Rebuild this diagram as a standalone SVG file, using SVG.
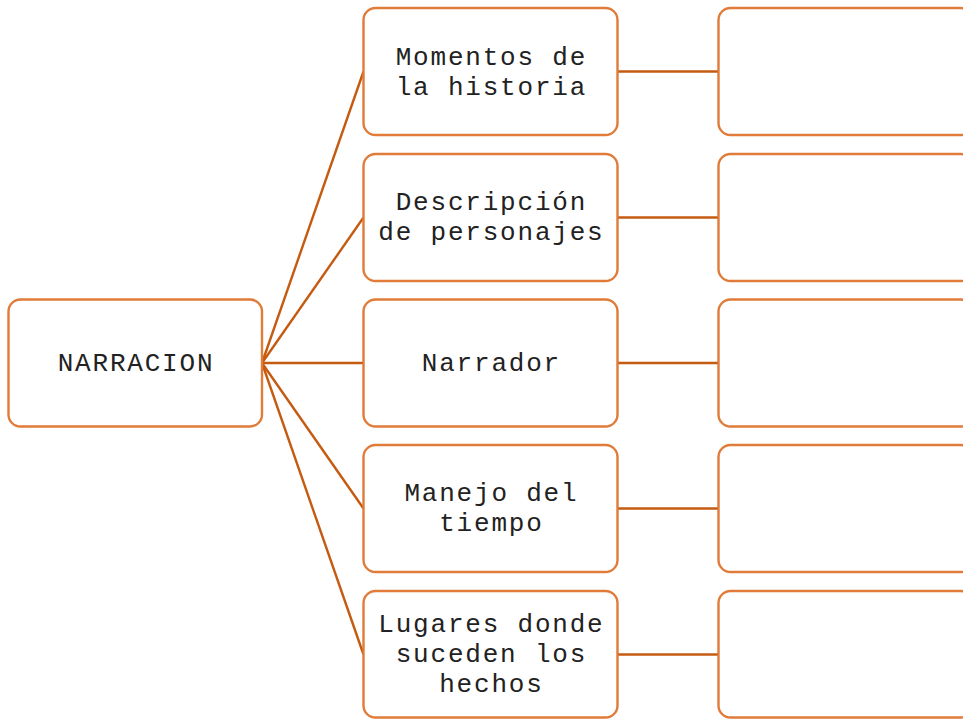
<svg xmlns="http://www.w3.org/2000/svg" width="963" height="719" viewBox="0 0 963 719">
<style>
.box{fill:#ffffff;stroke:#E07B39;stroke-width:2.4}
.c{stroke:#C55A11;stroke-width:2.4;fill:none}
text{font-family:"Liberation Mono","Courier New",monospace;font-size:26px;letter-spacing:1.8px;fill:#222222;text-anchor:middle}
</style>
<rect width="963" height="719" fill="#ffffff"/>
<g id="connectors">
<line class="c" x1="262" y1="363" x2="363.5" y2="71.5"/>
<line class="c" x1="262" y1="363" x2="363.5" y2="217.5"/>
<line class="c" x1="262" y1="363" x2="363.5" y2="363"/>
<line class="c" x1="262" y1="363" x2="363.5" y2="508.5"/>
<line class="c" x1="262" y1="363" x2="363.5" y2="654.5"/>
<line class="c" x1="617.5" y1="71.5" x2="718.5" y2="71.5"/>
<line class="c" x1="617.5" y1="217.5" x2="718.5" y2="217.5"/>
<line class="c" x1="617.5" y1="363" x2="718.5" y2="363"/>
<line class="c" x1="617.5" y1="508.5" x2="718.5" y2="508.5"/>
<line class="c" x1="617.5" y1="654.5" x2="718.5" y2="654.5"/>
</g>
<g id="n-root"><rect class="box" x="8.5" y="299.5" width="253.5" height="127" rx="12"/><text x="136" y="371">NARRACION</text></g>
<g id="n-momentos"><rect class="box" x="363.5" y="8" width="254" height="127" rx="12"/><text x="491.4" y="65">Momentos de</text><text x="491.4" y="94.5">la historia</text></g>
<g id="n-descripcion"><rect class="box" x="363.5" y="154" width="254" height="127" rx="12"/><text x="491.4" y="210">Descripción</text><text x="491.4" y="240">de personajes</text></g>
<g id="n-narrador"><rect class="box" x="363.5" y="299.5" width="254" height="127" rx="12"/><text x="491.4" y="371">Narrador</text></g>
<g id="n-manejo"><rect class="box" x="363.5" y="445" width="254" height="127" rx="12"/><text x="491.4" y="501">Manejo del</text><text x="491.4" y="531">tiempo</text></g>
<g id="n-lugares"><rect class="box" x="363.5" y="591" width="254" height="126.5" rx="12"/><text x="491.4" y="632">Lugares donde</text><text x="491.4" y="662">suceden los</text><text x="491.4" y="691.5">hechos</text></g>
<g id="r1"><rect class="box" x="718.5" y="8" width="254" height="127" rx="12"/></g>
<g id="r2"><rect class="box" x="718.5" y="154" width="254" height="127" rx="12"/></g>
<g id="r3"><rect class="box" x="718.5" y="299.5" width="254" height="127" rx="12"/></g>
<g id="r4"><rect class="box" x="718.5" y="445" width="254" height="127" rx="12"/></g>
<g id="r5"><rect class="box" x="718.5" y="591" width="254" height="126.5" rx="12"/></g>
</svg>
